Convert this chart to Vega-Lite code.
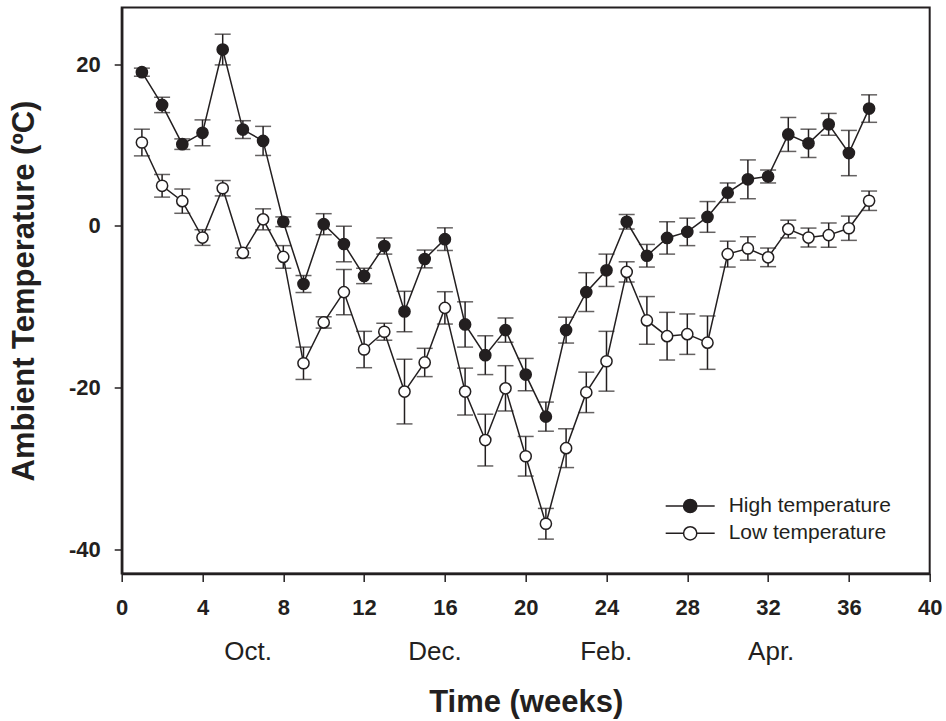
{
  "$schema": "https://vega.github.io/schema/vega-lite/v6.json",
  "autosize": {"type": "none"},
  "width": 808,
  "height": 566,
  "padding": {"left": 121.7, "top": 7.5, "right": 16, "bottom": 148},
  "config": {
    "font": "Liberation Sans",
    "view": {"stroke": "#231f20", "strokeWidth": 2},
    "axis": {"domainColor": "#231f20", "domainWidth": 2.5, "tickColor": "#231f20", "tickWidth": 1.5, "labelColor": "#231f20", "titleColor": "#231f20", "grid": false}
  },
  "data": {"values": [
    {"w":1,"s":"High temperature","m":19.0,"lo":18.5,"hi":19.5},
    {"w":2,"s":"High temperature","m":14.95,"lo":14.0,"hi":15.9},
    {"w":3,"s":"High temperature","m":10.1,"lo":9.45,"hi":10.75},
    {"w":4,"s":"High temperature","m":11.5,"lo":9.9,"hi":13.1},
    {"w":5,"s":"High temperature","m":21.8,"lo":19.9,"hi":23.7},
    {"w":6,"s":"High temperature","m":11.9,"lo":10.8,"hi":13.0},
    {"w":7,"s":"High temperature","m":10.5,"lo":8.7,"hi":12.3},
    {"w":8,"s":"High temperature","m":0.5,"lo":-0.1,"hi":1.1},
    {"w":9,"s":"High temperature","m":-7.2,"lo":-8.25,"hi":-6.15},
    {"w":10,"s":"High temperature","m":0.2,"lo":-1.1,"hi":1.5},
    {"w":11,"s":"High temperature","m":-2.25,"lo":-4.45,"hi":-0.05},
    {"w":12,"s":"High temperature","m":-6.2,"lo":-7.15,"hi":-5.25},
    {"w":13,"s":"High temperature","m":-2.5,"lo":-3.5,"hi":-1.5},
    {"w":14,"s":"High temperature","m":-10.6,"lo":-13.1,"hi":-8.1},
    {"w":15,"s":"High temperature","m":-4.1,"lo":-5.2,"hi":-3.0},
    {"w":16,"s":"High temperature","m":-1.65,"lo":-3.05,"hi":-0.25},
    {"w":17,"s":"High temperature","m":-12.2,"lo":-15.0,"hi":-9.4},
    {"w":18,"s":"High temperature","m":-16.0,"lo":-18.4,"hi":-13.6},
    {"w":19,"s":"High temperature","m":-12.9,"lo":-14.4,"hi":-11.4},
    {"w":20,"s":"High temperature","m":-18.4,"lo":-20.4,"hi":-16.4},
    {"w":21,"s":"High temperature","m":-23.6,"lo":-25.4,"hi":-21.8},
    {"w":22,"s":"High temperature","m":-12.9,"lo":-14.5,"hi":-11.3},
    {"w":23,"s":"High temperature","m":-8.2,"lo":-10.6,"hi":-5.8},
    {"w":24,"s":"High temperature","m":-5.5,"lo":-7.5,"hi":-3.5},
    {"w":25,"s":"High temperature","m":0.5,"lo":-0.4,"hi":1.4},
    {"w":26,"s":"High temperature","m":-3.7,"lo":-5.1,"hi":-2.3},
    {"w":27,"s":"High temperature","m":-1.5,"lo":-3.5,"hi":0.5},
    {"w":28,"s":"High temperature","m":-0.75,"lo":-2.45,"hi":0.95},
    {"w":29,"s":"High temperature","m":1.1,"lo":-0.8,"hi":3.0},
    {"w":30,"s":"High temperature","m":4.1,"lo":2.9,"hi":5.3},
    {"w":31,"s":"High temperature","m":5.75,"lo":3.35,"hi":8.15},
    {"w":32,"s":"High temperature","m":6.1,"lo":5.3,"hi":6.9},
    {"w":33,"s":"High temperature","m":11.3,"lo":9.2,"hi":13.4},
    {"w":34,"s":"High temperature","m":10.2,"lo":8.45,"hi":11.95},
    {"w":35,"s":"High temperature","m":12.55,"lo":11.2,"hi":13.9},
    {"w":36,"s":"High temperature","m":9.0,"lo":6.2,"hi":11.8},
    {"w":37,"s":"High temperature","m":14.5,"lo":12.8,"hi":16.2},
    {"w":1,"s":"Low temperature","m":10.3,"lo":8.65,"hi":11.95},
    {"w":2,"s":"Low temperature","m":4.95,"lo":3.55,"hi":6.35},
    {"w":3,"s":"Low temperature","m":3.05,"lo":1.55,"hi":4.55},
    {"w":4,"s":"Low temperature","m":-1.45,"lo":-2.42,"hi":-0.48},
    {"w":5,"s":"Low temperature","m":4.65,"lo":3.7,"hi":5.6},
    {"w":6,"s":"Low temperature","m":-3.35,"lo":-3.95,"hi":-2.75},
    {"w":7,"s":"Low temperature","m":0.8,"lo":-0.5,"hi":2.1},
    {"w":8,"s":"Low temperature","m":-3.85,"lo":-5.25,"hi":-2.45},
    {"w":9,"s":"Low temperature","m":-17.0,"lo":-19.0,"hi":-15.0},
    {"w":10,"s":"Low temperature","m":-11.95,"lo":-12.65,"hi":-11.25},
    {"w":11,"s":"Low temperature","m":-8.2,"lo":-11.0,"hi":-5.4},
    {"w":12,"s":"Low temperature","m":-15.3,"lo":-17.55,"hi":-13.05},
    {"w":13,"s":"Low temperature","m":-13.1,"lo":-14.15,"hi":-12.05},
    {"w":14,"s":"Low temperature","m":-20.5,"lo":-24.5,"hi":-16.5},
    {"w":15,"s":"Low temperature","m":-16.9,"lo":-18.65,"hi":-15.15},
    {"w":16,"s":"Low temperature","m":-10.15,"lo":-12.15,"hi":-8.15},
    {"w":17,"s":"Low temperature","m":-20.5,"lo":-23.4,"hi":-17.6},
    {"w":18,"s":"Low temperature","m":-26.5,"lo":-29.7,"hi":-23.3},
    {"w":19,"s":"Low temperature","m":-20.1,"lo":-22.9,"hi":-17.3},
    {"w":20,"s":"Low temperature","m":-28.5,"lo":-30.95,"hi":-26.05},
    {"w":21,"s":"Low temperature","m":-36.85,"lo":-38.75,"hi":-34.95},
    {"w":22,"s":"Low temperature","m":-27.5,"lo":-29.9,"hi":-25.1},
    {"w":23,"s":"Low temperature","m":-20.6,"lo":-23.1,"hi":-18.1},
    {"w":24,"s":"Low temperature","m":-16.75,"lo":-20.45,"hi":-13.05},
    {"w":25,"s":"Low temperature","m":-5.7,"lo":-6.95,"hi":-4.45},
    {"w":26,"s":"Low temperature","m":-11.7,"lo":-14.65,"hi":-8.75},
    {"w":27,"s":"Low temperature","m":-13.65,"lo":-16.6,"hi":-10.7},
    {"w":28,"s":"Low temperature","m":-13.4,"lo":-15.9,"hi":-10.9},
    {"w":29,"s":"Low temperature","m":-14.45,"lo":-17.75,"hi":-11.15},
    {"w":30,"s":"Low temperature","m":-3.5,"lo":-5.1,"hi":-1.9},
    {"w":31,"s":"Low temperature","m":-2.8,"lo":-4.25,"hi":-1.35},
    {"w":32,"s":"Low temperature","m":-3.9,"lo":-5.05,"hi":-2.75},
    {"w":33,"s":"Low temperature","m":-0.4,"lo":-1.5,"hi":0.7},
    {"w":34,"s":"Low temperature","m":-1.45,"lo":-2.62,"hi":-0.28},
    {"w":35,"s":"Low temperature","m":-1.15,"lo":-2.65,"hi":0.35},
    {"w":36,"s":"Low temperature","m":-0.3,"lo":-1.8,"hi":1.2},
    {"w":37,"s":"Low temperature","m":3.1,"lo":1.9,"hi":4.3}
  ]},
  "resolve": {"axis": {"x": "independent"}},
  "layer": [
    {
      "mark": {"type": "rule", "color": "#231f20", "strokeWidth": 1.5},
      "encoding": {
        "x": {"field": "w", "type": "quantitative",
          "scale": {"domain": [0, 40], "nice": false, "zero": false},
          "axis": {"orient": "bottom", "values": [0,4,8,12,16,20,24,28,32,36,40], "title": null,
            "labelFont": "Liberation Sans", "labelFontWeight": "bold", "labelFontSize": 22,
            "labelPadding": 16, "tickSize": 8, "labelFlush": false, "labelOverlap": false}},
        "y": {"field": "lo", "type": "quantitative",
          "scale": {"domain": [-43, 27], "nice": false, "zero": false},
          "axis": {"values": [-40,-20,0,20], "title": "Ambient Temperature (ºC)",
            "labelExpr": "replace(datum.label, '−', '-')",
            "labelFont": "Liberation Sans", "labelFontWeight": "bold", "labelFontSize": 22,
            "labelPadding": 14, "tickSize": 7.5, "labelFlush": false, "labelOverlap": false,
            "titleFont": "Liberation Sans", "titleFontWeight": "bold", "titleFontSize": 31, "titlePadding": 28}},
        "y2": {"field": "hi"}
      }
    },
    {
      "mark": {"type": "tick", "orient": "horizontal", "color": "#231f20", "size": 16, "thickness": 1.5},
      "encoding": {
        "x": {"field": "w", "type": "quantitative",
          "axis": {"orient": "bottom", "values": [6.23, 15.48, 23.96, 32.13],
            "labelExpr": "datum.value < 10 ? 'Oct.' : datum.value < 20 ? 'Dec.' : datum.value < 28 ? 'Feb.' : 'Apr.'",
            "ticks": false, "domain": false, "labelFont": "Liberation Sans", "labelFontSize": 26,
            "labelPadding": 65, "labelFlush": false, "labelOverlap": false,
            "title": "Time (weeks)", "titleFont": "Liberation Sans", "titleFontWeight": "bold",
            "titleFontSize": 31, "titlePadding": 23}},
        "y": {"field": "lo", "type": "quantitative"}
      }
    },
    {
      "mark": {"type": "tick", "orient": "horizontal", "color": "#231f20", "size": 16, "thickness": 1.5},
      "encoding": {
        "x": {"field": "w", "type": "quantitative", "axis": null},
        "y": {"field": "hi", "type": "quantitative"}
      }
    },
    {
      "mark": {"type": "line", "color": "#231f20", "strokeWidth": 1.5},
      "encoding": {
        "x": {"field": "w", "type": "quantitative", "axis": null},
        "y": {"field": "m", "type": "quantitative"},
        "detail": {"field": "s"}
      }
    },
    {
      "mark": {"type": "point", "shape": "circle", "filled": true, "size": 125, "stroke": "#231f20", "strokeWidth": 1.5, "opacity": 1},
      "encoding": {
        "x": {"field": "w", "type": "quantitative", "axis": null},
        "y": {"field": "m", "type": "quantitative"},
        "fill": {"field": "s", "type": "nominal",
          "scale": {"domain": ["High temperature", "Low temperature"], "range": ["#231f20", "#ffffff"]},
          "legend": {"title": null, "orient": "none", "legendX": 543, "legendY": 485, "padding": 0,
            "symbolType": "M-1,0L-0.27,0M0.27,0L1,0M-0.27,0A0.27,0.27,0,1,0,0.27,0A0.27,0.27,0,1,0,-0.27,0Z",
            "symbolSize": 2401, "symbolStrokeColor": "#231f20", "symbolStrokeWidth": 1.5,
            "labelFont": "Liberation Sans", "labelFontSize": 21, "labelColor": "#231f20", "labelLimit": 0,
            "labelOffset": 13, "clipHeight": 27, "rowPadding": 0.3}}
      }
    }
  ]
}
